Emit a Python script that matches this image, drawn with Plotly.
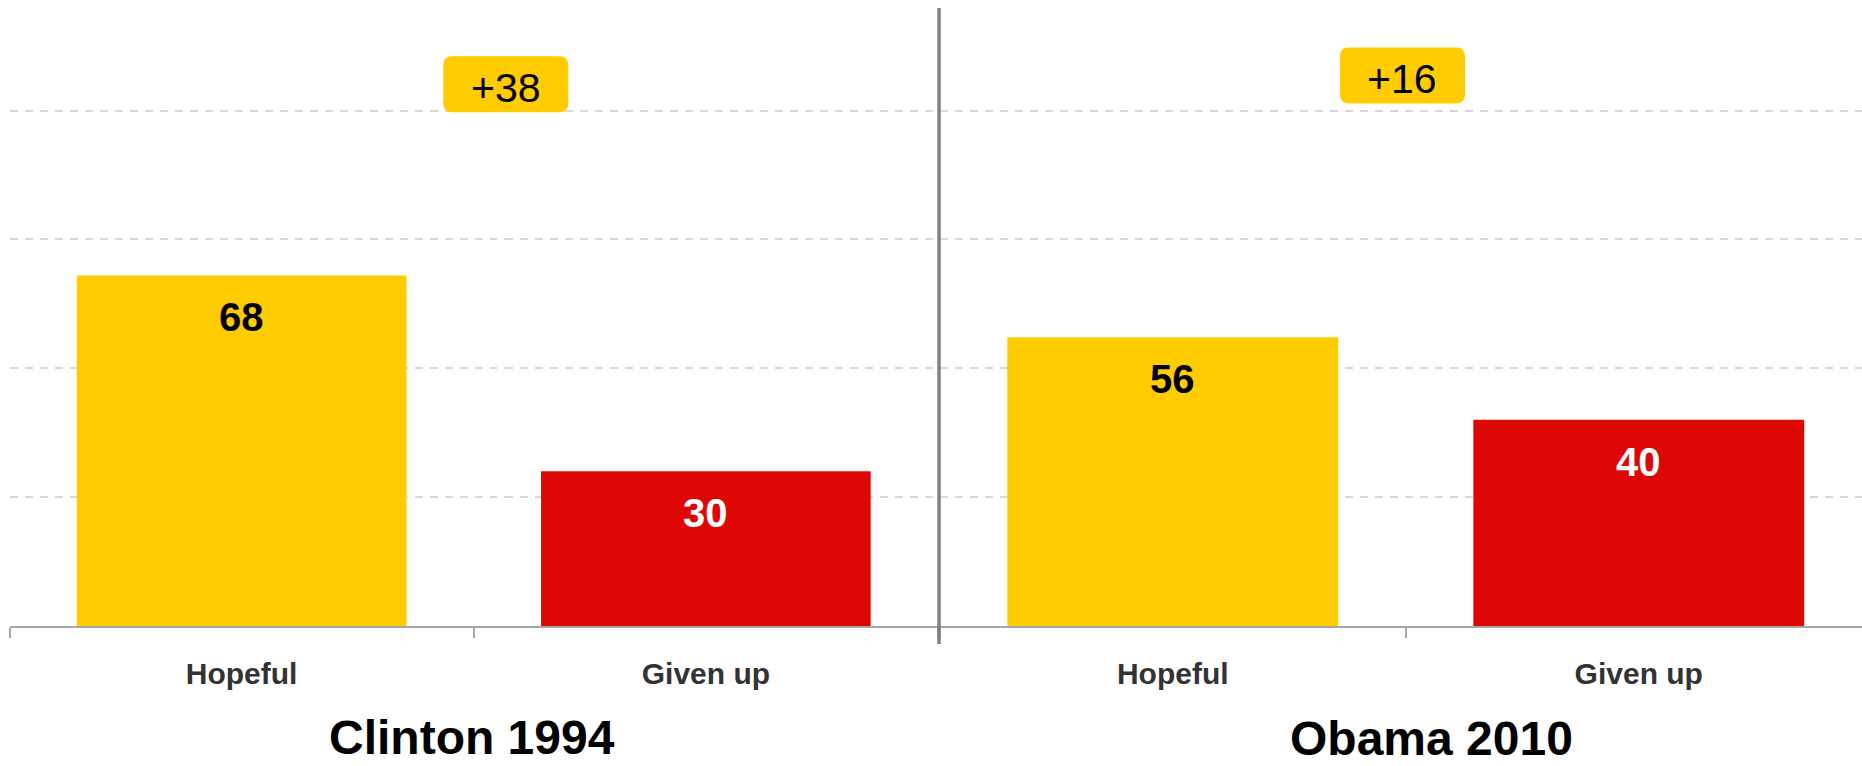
import plotly.graph_objects as go

# ---- data ----
categories = ["Hopeful", "Given up"]
clinton_1994 = [68, 30]
obama_2010 = [56, 40]
panel_titles = ["Clinton 1994", "Obama 2010"]

YELLOW = "#FFCC00"
RED = "#DD0805"
FONT = "Liberation Sans, Arial, sans-serif"

W, H = 1862, 766

fig = go.Figure()
panels = [(clinton_1994, "x", "y"), (obama_2010, "x2", "y2")]
for vals, xa, ya in panels:
    fig.add_trace(go.Bar(
        x=categories, y=vals, xaxis=xa, yaxis=ya,
        marker=dict(color=[YELLOW, RED], line=dict(width=0)),
        width=0.71, hoverinfo="skip", showlegend=False,
    ))

annotations = []
shapes = []
label_colors = ["#000000", "#FFFFFF"]

# value labels inside the bars
for vals, xa, ya in panels:
    for cat, v, c in zip(categories, vals, label_colors):
        annotations.append(dict(
            x=cat, y=v, xref=xa, yref=ya, text=f"<b>{v}</b>",
            showarrow=False, yanchor="middle", yshift=-42,
            font=dict(family=FONT, size=40, color=c),
        ))

# difference badges (rounded boxes)
badge_pos = [(0.569, 105.1), (0.493, 106.8)]
bw, bh, r = 125, 56, 9
hw, hh = bw / 2, bh / 2
path = (f"M {-hw + r},{-hh} L {hw - r},{-hh} Q {hw},{-hh} {hw},{-hh + r} "
        f"L {hw},{hh - r} Q {hw},{hh} {hw - r},{hh} L {-hw + r},{hh} "
        f"Q {-hw},{hh} {-hw},{hh - r} L {-hw},{-hh + r} Q {-hw},{-hh} {-hw + r},{-hh} Z")
for (vals, xa, ya), (bx, by) in zip(panels, badge_pos):
    diff = vals[0] - vals[1]
    shapes.append(dict(
        type="path", xref=xa, yref=ya, xsizemode="pixel", ysizemode="pixel",
        xanchor=bx, yanchor=by, path=path,
        fillcolor=YELLOW, line=dict(width=0), layer="above",
    ))
    annotations.append(dict(
        x=bx, y=by, xref=xa, yref=ya, text=f"+{diff}", showarrow=False,
        yanchor="middle", yshift=-4,
        font=dict(family=FONT, size=41, color="#000000"),
    ))

# panel titles
title_pos = [(471.7 / W, (H - 737) / H), (1431.7 / W, (H - 738) / H)]
for t, (tx, ty) in zip(panel_titles, title_pos):
    annotations.append(dict(
        x=tx, y=ty, xref="paper", yref="paper", text=f"<b>{t}</b>",
        showarrow=False, xanchor="center", yanchor="middle",
        font=dict(family=FONT, size=48, color="#000000"),
    ))

# divider between panels
shapes.append(dict(
    type="line", xref="paper", yref="paper",
    x0=939 / W, x1=939 / W, y0=(H - 644) / H, y1=(H - 8) / H,
    line=dict(color="#808080", width=3.5), layer="above",
))

ydom = [(H - 626) / H, (H - 7.4) / H]
xaxis_common = dict(
    type="category", showline=True, linecolor="#A6A6A6", linewidth=2,
    ticks="outside", tickson="boundaries", ticklen=10, tickcolor="#A6A6A6",
    tickwidth=1.5, showgrid=False, zeroline=False,
    tickfont=dict(family=FONT, size=30, color="#333333"),
    ticklabelstandoff=20, fixedrange=True,
)
yaxis_common = dict(
    range=[0, 120], tick0=0, dtick=25, showgrid=True, gridcolor="#D9D9D9",
    griddash="8px,7px", gridwidth=1.5, zeroline=False, showline=False,
    showticklabels=False, ticks="", domain=ydom, fixedrange=True,
)

fig.update_layout(
    width=W, height=H,
    margin=dict(l=0, r=0, t=0, b=0, pad=0),
    paper_bgcolor="white", plot_bgcolor="white",
    xaxis=dict(domain=[9.5 / W, 938 / W], anchor="y", range=[-0.5, 1.5],
               tickvals=categories, ticktext=[f"<b>{c}</b>" for c in categories],
               **xaxis_common),
    yaxis=dict(anchor="x", **yaxis_common),
    xaxis2=dict(domain=[939.7 / W, 1.0], anchor="y2", range=[-0.5, 1.479],
                tickvals=categories, ticktext=[f"<b>{c}</b>" for c in categories],
                **xaxis_common),
    yaxis2=dict(anchor="x2", **yaxis_common),
    bargap=0.29,
    annotations=annotations,
    shapes=shapes,
)

fig.write_html(
    "out.html",
    config={"displayModeBar": False},
    post_script="document.body.style.margin='0';document.body.style.overflow='hidden';",
)
